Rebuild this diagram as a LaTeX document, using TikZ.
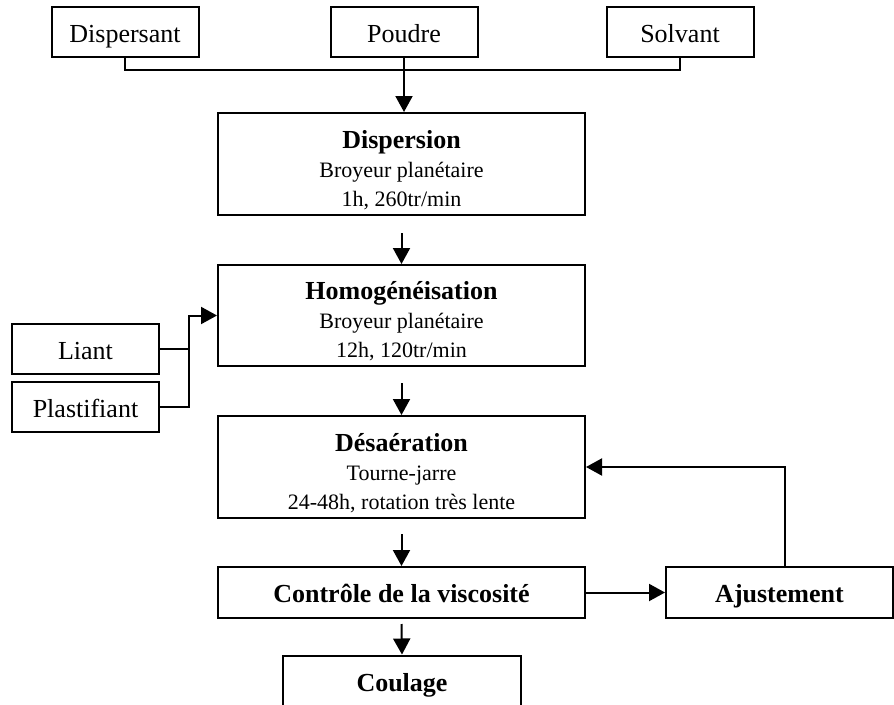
\documentclass[tikz,border=0pt]{standalone}
\usepackage{fontspec}
\setmainfont{Liberation Serif}
\usetikzlibrary{arrows.meta, positioning}
\newcommand{\steptitle}[1]{{\bfseries\fontsize{26}{29}\selectfont\rule{0pt}{30pt}#1}}

\begin{document}
\begin{tikzpicture}[x=1pt, y=-1pt, line width=2pt,
    inbox/.style={draw, minimum width=147pt, minimum height=50pt, inner sep=0pt,
        text height=24pt, text depth=4pt, font=\fontsize{26}{30}\selectfont},
    procbox/.style={draw, minimum width=367pt, inner sep=0pt, align=center,
        font=\fontsize{22}{29}\selectfont},
    ttl/.style={font=\fontsize{26}{29}\selectfont\bfseries, text height=24pt, text depth=4pt},
    arr/.style={-{Triangle[length=16pt, width=17pt]}}]
\useasboundingbox (0,0) rectangle (894,704);
% inputs
\node[inbox] (dispersant) at (125,32) {Dispersant};
\node[inbox] (poudre) at (404,32) {Poudre};
\node[inbox] (solvant) at (680,32) {Solvant};
\node[inbox] (liant) at (85.5,349) {Liant};
\node[inbox] (plast) at (85.5,407) {Plastifiant};
% process steps
\node[procbox, minimum height=102pt] (dispersion) at (401.5,164)
    {\steptitle{Dispersion}\\Broyeur planétaire\\1h, 260tr/min};
\node[procbox, minimum height=101pt] (homog) at (401.5,315.5)
    {\steptitle{Homogénéisation}\\Broyeur planétaire\\12h, 120tr/min};
\node[procbox, minimum height=102pt] (desaer) at (401.5,467)
    {\steptitle{Désaération}\\Tourne-jarre\\24-48h, rotation très lente};
\node[procbox, minimum height=51pt, ttl] (controle) at (401.5,592.5) {Contrôle de la viscosité};
\node[inbox, minimum width=227pt, minimum height=51pt, ttl] (ajust) at (779.5,592.5) {Ajustement};
\node[inbox, minimum width=238pt, minimum height=51pt, ttl] (coulage) at (402,681) {Coulage};
% connectors
\coordinate (jn) at (404,70);
\coordinate (lp) at (189,315.5);
\draw (dispersant.south) |- (jn) -| (solvant.south); % side inputs
\draw[arr] (poudre.south) -- (poudre.south |- dispersion.north);
\draw[arr] ([yshift=-17pt]dispersion.south) -- (homog.north);
\draw[arr] ([yshift=-16pt]homog.south) -- (desaer.north);
\draw[arr] ([yshift=-15pt]desaer.south) -- (controle.north);
\draw[arr] ([yshift=-5pt]controle.south) -- (coulage.north);
\draw (liant.east) -- (liant.east -| lp);
\draw[arr] (plast.east) -| (lp) -- (homog.west); % liant + plastifiant
\draw[arr] (controle.east) -- (ajust.west);
\draw[arr] ([xshift=5.5pt]ajust.north) |- (desaer.east); % back to desaeration
\end{tikzpicture}
\end{document}
